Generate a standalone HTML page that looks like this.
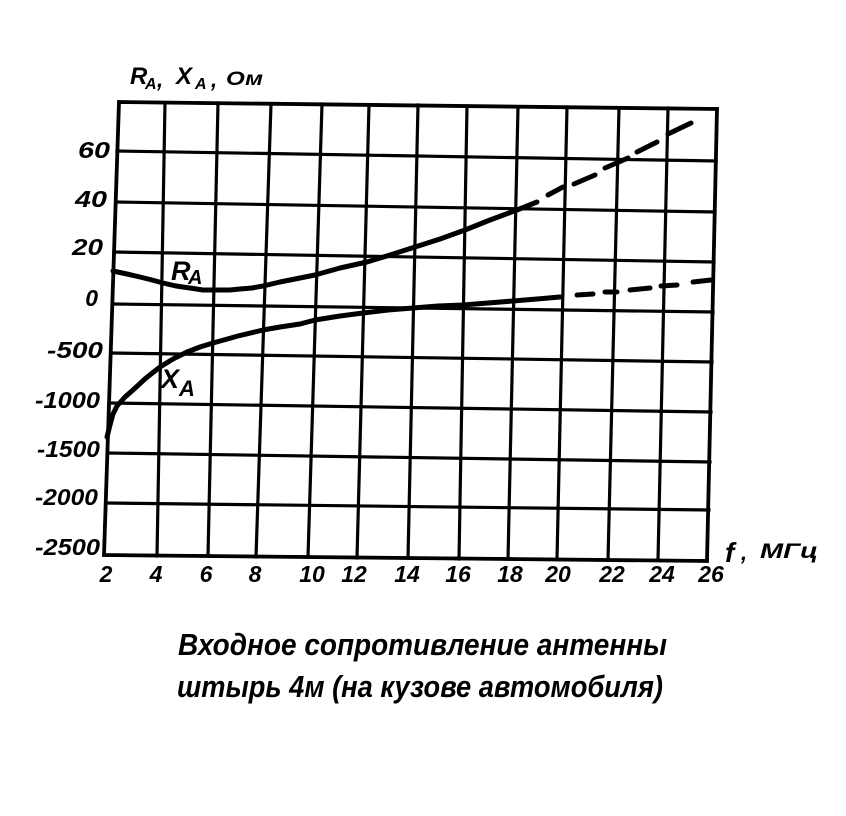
<!DOCTYPE html>
<html>
<head>
<meta charset="utf-8">
<style>
html,body{margin:0;padding:0;background:#fff;}
svg{display:block;}
text{font-family:"Liberation Sans","DejaVu Sans",sans-serif;font-style:italic;font-weight:bold;fill:#000;}
</style>
</head>
<body>
<svg width="846" height="816" viewBox="0 0 846 816" xmlns="http://www.w3.org/2000/svg">
<rect width="846" height="816" fill="#fff"/>
<g stroke="#000" stroke-width="3.2" stroke-linecap="square" fill="none">
<line x1="119" y1="102" x2="104" y2="555"/>
<line x1="165" y1="103" x2="157" y2="556"/>
<line x1="218" y1="103" x2="208" y2="556"/>
<line x1="271" y1="104" x2="256" y2="557"/>
<line x1="322" y1="104" x2="308" y2="557"/>
<line x1="369" y1="105" x2="357" y2="558"/>
<line x1="418" y1="105" x2="408" y2="558"/>
<line x1="467" y1="106" x2="459" y2="559"/>
<line x1="518" y1="107" x2="508" y2="559"/>
<line x1="567" y1="107" x2="557" y2="559"/>
<line x1="619" y1="108" x2="608" y2="560"/>
<line x1="668" y1="108" x2="658" y2="560"/>
<line x1="717" y1="109" x2="707" y2="561"/>
<line x1="119" y1="102" x2="717" y2="109"/>
<line x1="117" y1="151" x2="716" y2="161"/>
<line x1="116" y1="202" x2="715" y2="212"/>
<line x1="114" y1="252" x2="714" y2="262"/>
<line x1="113" y1="304" x2="713" y2="312"/>
<line x1="111" y1="353" x2="712" y2="362"/>
<line x1="110" y1="403" x2="711" y2="412"/>
<line x1="108" y1="453" x2="710" y2="462"/>
<line x1="107" y1="503" x2="709" y2="510"/>
<line x1="104" y1="555" x2="707" y2="561"/>
</g>
<polygon points="119,102 717,109 707,561 104,555" fill="none" stroke="#000" stroke-width="3.8" stroke-linejoin="miter"/>

<g stroke="#000" stroke-width="5" fill="none" stroke-linecap="round" stroke-linejoin="round">
<polyline points="113,271 127,274 140,277 152,280 163,283 176,286 190,288 203,290 217,290 230,290 240,289 252,288 263,286 280,282 300,278 315,275 340,268 367,262 390,255 415,247 440,239 465,230 490,220 517,210 537,202"/>
<line x1="548" y1="195" x2="563" y2="187"/>
<line x1="574" y1="184" x2="595" y2="175"/>
<line x1="605" y1="168" x2="628" y2="158"/>
<line x1="637" y1="152" x2="657" y2="142"/>
<line x1="668" y1="134" x2="691" y2="123"/>
<polyline points="107,437 110,425 113,414 117,406 125,397 133,390 146,378 160,367 173,359 187,352 200,347 213,343 238,336 263,330 280,327 300,324 315,320 340,316 363,313 388,310 413,308 438,306 463,305 488,303 513,301 537,299 560,297"/>
<line x1="577" y1="295" x2="593" y2="294"/>
<line x1="605" y1="292" x2="617" y2="292"/>
<line x1="630" y1="290" x2="650" y2="288"/>
<line x1="661" y1="286" x2="677" y2="285"/>
<line x1="693" y1="282" x2="711" y2="280"/>
</g>

<text x="130" y="84" font-size="24">R</text>
<text x="145" y="89" font-size="16">A</text>
<text x="157" y="87" font-size="22">,</text>
<text x="176" y="84" font-size="24">X</text>
<text x="195" y="89" font-size="16">A</text>
<text x="211" y="87" font-size="22">,</text>
<text x="226" y="85" font-size="19" textLength="37" lengthAdjust="spacingAndGlyphs">Ом</text>

<g font-size="23" text-anchor="end">
<text x="110" y="158" textLength="32" lengthAdjust="spacingAndGlyphs">60</text>
<text x="107" y="207" textLength="32" lengthAdjust="spacingAndGlyphs">40</text>
<text x="103" y="255" textLength="31" lengthAdjust="spacingAndGlyphs">20</text>
<text x="98" y="306">0</text>
<text x="103" y="358" textLength="56" lengthAdjust="spacingAndGlyphs">-500</text>
<text x="100" y="408" textLength="65" lengthAdjust="spacingAndGlyphs">-1000</text>
<text x="100" y="457" textLength="63" lengthAdjust="spacingAndGlyphs">-1500</text>
<text x="98" y="505" textLength="63" lengthAdjust="spacingAndGlyphs">-2000</text>
<text x="100" y="555" textLength="65" lengthAdjust="spacingAndGlyphs">-2500</text>
</g>

<g font-size="23" text-anchor="middle">
<text x="106" y="582">2</text>
<text x="156" y="582">4</text>
<text x="206" y="582">6</text>
<text x="255" y="582">8</text>
<text x="312" y="582">10</text>
<text x="354" y="582">12</text>
<text x="407" y="582">14</text>
<text x="458" y="582">16</text>
<text x="510" y="582">18</text>
<text x="558" y="582">20</text>
<text x="612" y="582">22</text>
<text x="662" y="582">24</text>
<text x="711" y="582">26</text>
</g>

<text x="725" y="562" font-size="28">f</text>
<text x="741" y="560" font-size="22">,</text>
<text x="760" y="558" font-size="21" textLength="58" lengthAdjust="spacingAndGlyphs">МГц</text>

<text x="171" y="280" font-size="27">R</text>
<text x="188" y="284" font-size="20">A</text>
<text x="161" y="388" font-size="27">X</text>
<text x="179" y="396" font-size="22">A</text>

<text x="178" y="655" font-size="31" textLength="489" lengthAdjust="spacingAndGlyphs">Входное  сопротивление  антенны</text>
<text x="177" y="697" font-size="31" textLength="486" lengthAdjust="spacingAndGlyphs">штырь 4м (на кузове  автомобиля)</text>
</svg>
</body>
</html>
